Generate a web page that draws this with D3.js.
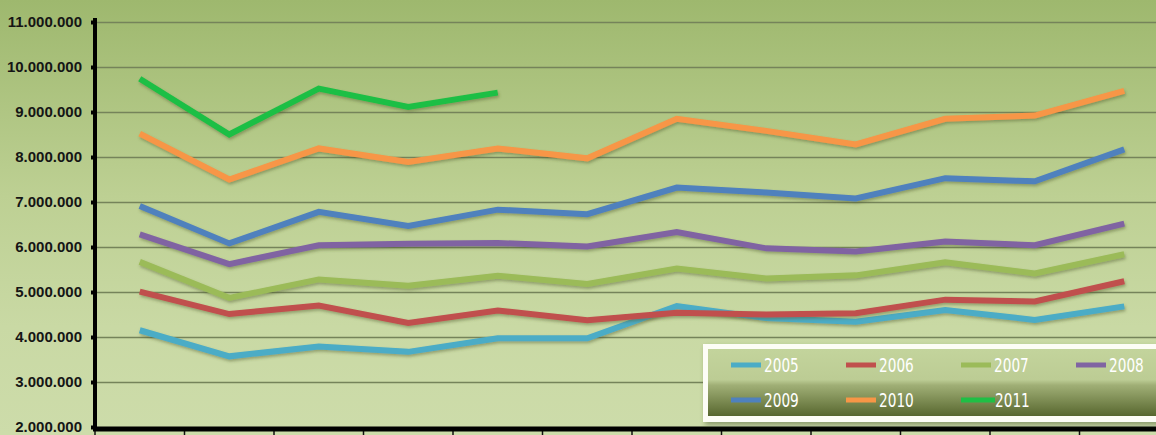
<!DOCTYPE html>
<html>
<head>
<meta charset="utf-8">
<script src="https://cdnjs.cloudflare.com/ajax/libs/d3/7.8.5/d3.min.js"></script>
<style>
  html, body { margin: 0; padding: 0; overflow: hidden; background: #c4d59c; }
  svg { display: block; }
</style>
</head>
<body>
<script>
  // months (no labels shown on the axis)
  var categories = ['1', '2', '3', '4', '5', '6', '7', '8', '9', '10', '11', '12'];
  var years = ['2005', '2006', '2007', '2008', '2009', '2010', '2011'];
  var yTicks = [2000000, 3000000, 4000000, 5000000, 6000000, 7000000, 8000000, 9000000, 10000000, 11000000];

  var s2005 = [4150000, 3570000, 3790000, 3670000, 3970000, 3970000, 4690000, 4420000, 4340000, 4600000, 4380000, 4680000];
  var s2006 = [5010000, 4510000, 4700000, 4310000, 4590000, 4370000, 4540000, 4500000, 4530000, 4830000, 4790000, 5240000];
  var s2007 = [5670000, 4870000, 5280000, 5140000, 5360000, 5180000, 5520000, 5300000, 5370000, 5660000, 5410000, 5840000];
  var s2008 = [6280000, 5620000, 6040000, 6070000, 6090000, 6010000, 6330000, 5970000, 5900000, 6120000, 6040000, 6520000];
  var s2009 = [6910000, 6080000, 6780000, 6470000, 6830000, 6730000, 7320000, 7210000, 7080000, 7530000, 7460000, 8170000];
  var s2010 = [8520000, 7500000, 8190000, 7890000, 8190000, 7970000, 8850000, 8580000, 8280000, 8850000, 8920000, 9470000];
  var s2011 = [9740000, 8500000, 9520000, 9110000, 9430000];

  var colors = ['#4bacc6', '#c0504d', '#9bbb59', '#8064a2', '#4f81bd', '#f79646', '#1fbf45'];

  var series = [s2005, s2006, s2007, s2008, s2009, s2010, s2011].map(function (vals, i) {
    return { name: years[i], color: colors[i], values: vals };
  });

  var W = 1156, H = 435;

  var svg = d3.select('body')
    .append('svg')
    .attr('width', W)
    .attr('height', H);

  var defs = svg.append('defs');

  var bg = defs.append('linearGradient')
    .attr('id', 'bgGrad')
    .attr('x1', 0).attr('y1', 0).attr('x2', 0).attr('y2', 1);
  bg.append('stop').attr('offset', '0%').attr('stop-color', '#9eb86e');
  bg.append('stop').attr('offset', '45%').attr('stop-color', '#bdd093');
  bg.append('stop').attr('offset', '75%').attr('stop-color', '#c9d9a4');
  bg.append('stop').attr('offset', '100%').attr('stop-color', '#cddcaa');

  var lg = defs.append('linearGradient')
    .attr('id', 'legGrad')
    .attr('x1', 0).attr('y1', 0).attr('x2', 0).attr('y2', 1);
  lg.append('stop').attr('offset', '0%').attr('stop-color', '#c3d49c');
  lg.append('stop').attr('offset', '46%').attr('stop-color', '#bccc94');
  lg.append('stop').attr('offset', '54%').attr('stop-color', '#a0af76');
  lg.append('stop').attr('offset', '100%').attr('stop-color', '#58672f');

  var shadow = defs.append('filter')
    .attr('id', 'lineShadow')
    .attr('x', '-5%').attr('y', '-20%')
    .attr('width', '110%').attr('height', '140%');
  shadow.append('feDropShadow')
    .attr('dx', 1).attr('dy', 2)
    .attr('stdDeviation', 1.5)
    .attr('flood-color', '#4d5a2c')
    .attr('flood-opacity', 0.45);

  var boxShadow = defs.append('filter')
    .attr('id', 'boxShadow')
    .attr('x', '-5%').attr('y', '-10%')
    .attr('width', '115%').attr('height', '130%');
  boxShadow.append('feDropShadow')
    .attr('dx', 2).attr('dy', 3)
    .attr('stdDeviation', 2.5)
    .attr('flood-color', '#3e4a22')
    .attr('flood-opacity', 0.45);

  svg.append('rect')
    .attr('width', W).attr('height', H)
    .attr('fill', 'url(#bgGrad)');

  var x0 = 95, step = 89.5;
  var x = d3.scaleBand()
    .domain(categories)
    .range([x0, x0 + step * categories.length]);

  var y = d3.scaleLinear()
    .domain([2000000, 11000000])
    .range([427, 22]);

  var fmt = function (d) {
    return d3.format(',')(d).replace(/,/g, '.');
  };

  // grid lines
  svg.append('g')
    .selectAll('line')
    .data(yTicks.slice(1))
    .enter()
    .append('line')
    .attr('x1', x0)
    .attr('x2', W)
    .attr('y1', function (d) { return Math.round(y(d)) + 0.5; })
    .attr('y2', function (d) { return Math.round(y(d)) + 0.5; })
    .attr('stroke', '#75835a')
    .attr('stroke-width', 1.4);

  // series lines
  var line = d3.line()
    .x(function (d, i) { return x(categories[i]) + x.bandwidth() / 2; })
    .y(function (d) { return y(d); });

  svg.append('g')
    .attr('id', 'lines')
    .selectAll('path')
    .data(series)
    .enter()
    .append('path')
    .attr('d', function (d) { return line(d.values); })
    .attr('fill', 'none')
    .attr('stroke', function (d) { return d.color; })
    .attr('stroke-width', 6)
    .attr('stroke-linejoin', 'miter')
    .attr('filter', 'url(#lineShadow)');

  // y axis
  var yAxis = d3.axisLeft(y)
    .tickValues(yTicks)
    .tickSize(4)
    .tickPadding(9)
    .tickFormat(fmt);

  var yg = svg.append('g')
    .attr('transform', 'translate(' + x0 + ',0)')
    .call(yAxis);
  yg.select('.domain').remove();
  yg.selectAll('.tick line')
    .attr('stroke', '#000')
    .attr('stroke-width', 4);
  yg.selectAll('.tick text')
    .attr('fill', '#151515')
    .style('font-family', '"Liberation Sans", Arial, sans-serif')
    .style('font-weight', 'bold')
    .style('font-size', '15px');

  svg.append('line')
    .attr('x1', x0).attr('x2', x0)
    .attr('y1', 18).attr('y2', 431)
    .attr('stroke', '#000')
    .attr('stroke-width', 4);

  // x axis
  var xAxis = d3.axisBottom(x)
    .tickSize(6)
    .tickFormat('');

  var xg = svg.append('g')
    .attr('transform', 'translate(0,429)')
    .call(xAxis);
  xg.select('.domain').remove();
  xg.selectAll('.tick line')
    .attr('transform', function () {
      return 'translate(' + (-x.bandwidth() / 2) + ',0)';
    })
    .attr('stroke', '#111')
    .attr('stroke-width', 1.5);

  svg.append('line')
    .attr('x1', x0 - 2).attr('x2', W)
    .attr('y1', 429).attr('y2', 429)
    .attr('stroke', '#000')
    .attr('stroke-width', 5);

  // legend
  var leg = svg.append('g')
    .attr('transform', 'translate(703,344)');

  leg.append('rect')
    .attr('width', 470).attr('height', 78)
    .attr('fill', '#fdfdf6')
    .attr('filter', 'url(#boxShadow)');
  leg.append('rect')
    .attr('x', 5).attr('y', 5)
    .attr('width', 460).attr('height', 67)
    .attr('fill', 'url(#legGrad)');

  var items = leg.selectAll('g.item')
    .data(series)
    .enter()
    .append('g')
    .attr('class', 'item')
    .attr('transform', function (d, i) {
      return 'translate(' + (28 + (i % 4) * 115) + ',' + (i < 4 ? 21 : 56) + ')';
    });

  items.append('line')
    .attr('x1', 0)
    .attr('x2', function (d, i) { return i === 6 ? 34 : 30; })
    .attr('y1', 0).attr('y2', 0)
    .attr('stroke', function (d) { return d.color; })
    .attr('stroke-width', 5);

  items.append('text')
    .attr('transform', function (d, i) {
      return 'translate(' + (i === 6 ? 34 : 33) + ',7) scale(0.8,1)';
    })
    .attr('fill', '#ffffff')
    .style('font-family', '"DejaVu Sans Condensed", "DejaVu Sans", sans-serif')
    .style('font-size', '19px')
    .text(function (d) { return d.name; });
</script>
</body>
</html>
